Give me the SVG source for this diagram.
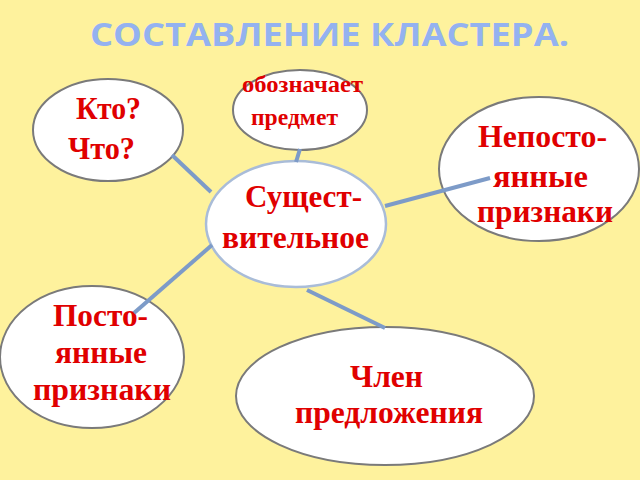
<svg xmlns="http://www.w3.org/2000/svg" width="640" height="480" viewBox="0 0 640 480">
<style>
.bg{fill:#FEF29D}
.title{font-family:"Open Sans","DejaVu Sans",sans-serif;font-weight:bold;font-size:33px;fill:#94B2F0}
.node{fill:#FFFFFF;stroke:#7A7A7A;stroke-width:2}
.center{fill:#FFFFFF;stroke:#A9BCD8;stroke-width:2.5}
.lbl{font-family:"Liberation Serif","Times New Roman",serif;font-weight:bold;font-size:31px;fill:#E00000}
.sm{font-size:24px}
.conn line{stroke:#7D9BC8;stroke-width:4;stroke-linecap:butt}
</style>
<rect class="bg" x="0" y="0" width="640" height="480"/>
<text class="title" x="90" y="46" textLength="479" lengthAdjust="spacingAndGlyphs">СОСТАВЛЕНИЕ КЛАСТЕРА.</text>
<g id="node-kto">
<ellipse class="node" cx="108" cy="130" rx="75" ry="51"/>
<text class="lbl" x="76" y="119" textLength="65" lengthAdjust="spacingAndGlyphs">Кто?</text>
<text class="lbl" x="68" y="159" textLength="67" lengthAdjust="spacingAndGlyphs">Что?</text>
</g>
<g id="node-oboznachaet">
<ellipse class="node" cx="300" cy="110" rx="67" ry="40"/>
<text class="lbl sm" x="242" y="92" textLength="121" lengthAdjust="spacingAndGlyphs">обозначает</text>
<text class="lbl sm" x="251" y="125" textLength="87" lengthAdjust="spacingAndGlyphs">предмет</text>
</g>
<g id="node-nepostoyannye">
<ellipse class="node" cx="539" cy="169" rx="100" ry="72"/>
<text class="lbl" x="478" y="147" textLength="129" lengthAdjust="spacingAndGlyphs">Непосто-</text>
<text class="lbl" x="493" y="187" textLength="95" lengthAdjust="spacingAndGlyphs">янные</text>
<text class="lbl" x="477" y="222" textLength="136" lengthAdjust="spacingAndGlyphs">признаки</text>
</g>
<g id="node-center">
<ellipse class="center" cx="296" cy="224" rx="90" ry="63"/>
<text class="lbl" x="245" y="207" textLength="117" lengthAdjust="spacingAndGlyphs">Сущест-</text>
<text class="lbl" x="222" y="248" textLength="147" lengthAdjust="spacingAndGlyphs">вительное</text>
</g>
<g id="node-postoyannye">
<ellipse class="node" cx="92" cy="357" rx="92" ry="71"/>
<text class="lbl" x="53" y="326" textLength="95" lengthAdjust="spacingAndGlyphs">Посто-</text>
<text class="lbl" x="55" y="363" textLength="92" lengthAdjust="spacingAndGlyphs">янные</text>
<text class="lbl" x="33" y="400" textLength="138" lengthAdjust="spacingAndGlyphs">признаки</text>
</g>
<g id="node-chlen">
<ellipse class="node" cx="385" cy="396" rx="149" ry="69"/>
<text class="lbl" x="350" y="387" textLength="73" lengthAdjust="spacingAndGlyphs">Член</text>
<text class="lbl" x="295" y="423" textLength="188" lengthAdjust="spacingAndGlyphs">предложения</text>
</g>
<g id="connectors" class="conn">
<line x1="172" y1="155" x2="211" y2="192"/>
<line x1="300" y1="149" x2="296" y2="162"/>
<line x1="385" y1="206" x2="490" y2="178"/>
<line x1="212" y1="245" x2="134" y2="313"/>
<line x1="307" y1="290" x2="385" y2="328"/>
</g>
</svg>
